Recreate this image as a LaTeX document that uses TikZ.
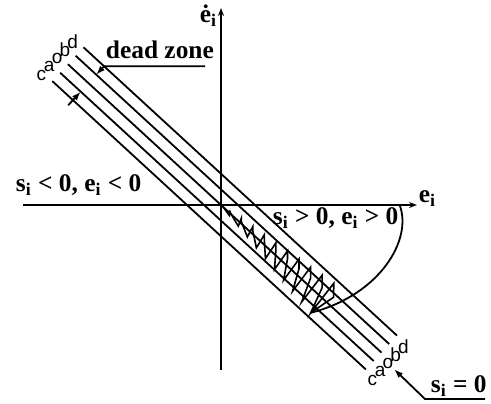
\documentclass[tikz,border=0pt]{standalone}
\usepackage{fontspec}
\setmainfont{Liberation Serif}
\setsansfont{Liberation Sans}
\usetikzlibrary{arrows.meta}
\begin{document}
\begin{tikzpicture}[x=0.5pt, y=-0.5pt, line width=0.9pt,
  lbl/.style={font=\fontsize{12.7}{14}\selectfont\bfseries, inner sep=0pt},
  tag/.style={font=\fontsize{9.5}{10}\selectfont\sffamily, inner sep=0pt},
  axis/.style={line width=0.75pt, -{Stealth[length=4pt,width=3pt]}},
  tip/.style={-{Latex[length=4.5pt,width=3.2pt]}}]
\useasboundingbox (0,0) rectangle (491,403);
% axes
\coordinate (O) at (221,205);
\coordinate (xl) at (23,205);
\coordinate (xr) at (417,205);
\coordinate (yb) at (221,370);
\coordinate (yt) at (221,8);
\draw[axis] (xl) -- (xr);
\draw[axis] (yb) -- (yt);
\node[lbl, anchor=base west] (xlab) at (418,202) {e\textsubscript{i}};
\node[lbl, anchor=base west] (ylab) at (199,22) {\.{e}\textsubscript{i}};
% sliding lines, labels at both ends
\begin{scope}[shift={(O)}, rotate=-42.6]
\foreach \off/\lab in {-23/d,-11.5/b,0/o,11.5/a,23/c} {
  \draw (-208,\off) -- (218,\off);
  \node[tag] (\lab1) at (-220,{\off+3}) {\lab};
  \node[tag] (\lab2) at (230,{\off+3.5}) {\lab};
}
\coordinate (dzd) at (-180,-23);
\coordinate (dzb) at (-180,-11.5);
\coordinate (dzc) at (-180,30);
\coordinate (dza) at (-180,11.5);
% chattering
\draw[line width=0.8pt] (3,0)
  \foreach \k in {0,...,9} {
    -- ({13+14*\k},{2+1.85*\k}) -- ({10+14*\k},{-2-1.85*\k})
    -- ({10+14*\k+0.5*(2+1.85*\k)},{-0.45*(2+1.85*\k)})
  } -- (139,18.6);
\coordinate (zend) at (139,18.6);
\end{scope}
% reaching phase
\coordinate (arcs) at (400,206);
\draw (arcs) .. controls (412,240) and (380,295) .. (zend);
% dead zone
\coordinate (dzr) at (205,0);
\draw[tip] (dzr |- dzd) -- (dzd) -- (dzb);
\draw[tip] (dzc) -- (dza);
\node[lbl, anchor=base west] (dz) at (105,58) {dead zone};
% regions
\node[lbl, anchor=base west] (neg) at (15,191) {s\textsubscript{i} < 0, e\textsubscript{i} < 0};
\node[lbl, anchor=base west] (pos) at (272,224) {s\textsubscript{i} > 0, e\textsubscript{i} > 0};
% surface
\coordinate (sr) at (485,399);
\coordinate (sl) at (425,399);
\draw[tip] (sr) -- (sl) -- (o2);
\node[lbl, anchor=base west] (s0) at (430,392) {s\textsubscript{i} = 0};
\end{tikzpicture}
\end{document}
